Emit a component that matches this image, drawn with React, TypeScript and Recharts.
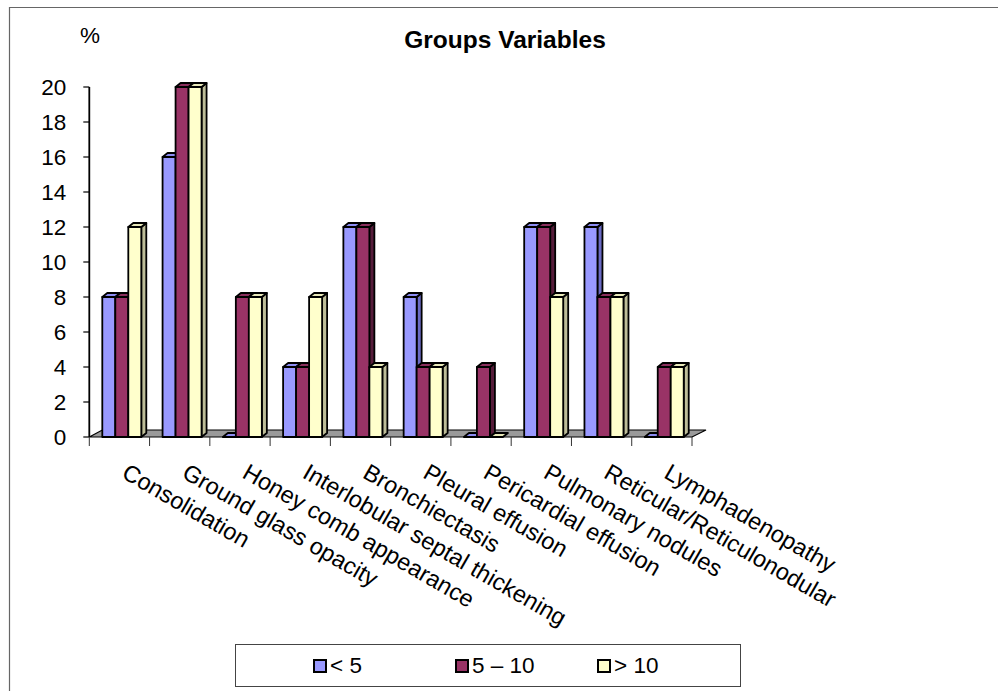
import React from 'react';
import { BarChart, Bar, XAxis, YAxis, Legend } from 'recharts';

const categories = [
  'Consolidation',
  'Ground glass opacity',
  'Honey comb appearance',
  'Interlobular septal thickening',
  'Bronchiectasis',
  'Pleural effusion',
  'Pericardial effusion',
  'Pulmonary nodules',
  'Reticular/Reticulonodular',
  'Lymphadenopathy',
];
const under5 = [8, 16, 0, 4, 12, 8, 0, 12, 12, 0];
const from5to10 = [8, 20, 8, 4, 12, 4, 4, 12, 8, 4];
const over10 = [12, 20, 8, 8, 4, 4, 0, 8, 8, 4];
const yTicks = [0, 2, 4, 6, 8, 10, 12, 14, 16, 18, 20];
const seriesNames = ['< 5', '5 \u2013 10', '> 10'];
const seriesColors = ['#9999FF', '#993366', '#FFFFCC'];

const data = categories.map((name, i) => ({
  name,
  a: under5[i],
  b: from5to10[i],
  c: over10[i],
}));

const FONT = '"Liberation Sans", Arial, sans-serif';
const W = 998;
const H = 691;
const PLOT_LEFT = 89.3;
const PLOT_RIGHT = 692;
const PLOT_TOP = 87;
const PLOT_BOTTOM = 437;
const DX = 5;
const DY = 4;

const faces: Record<string, { front: string; top: string; side: string }> = {
  '#9999FF': { front: '#9999FF', top: '#8c8cf2', side: '#6b6bc4' },
  '#993366': { front: '#993366', top: '#8a2e5c', side: '#561c3a' },
  '#FFFFCC': { front: '#FFFFCC', top: '#e8e8b8', side: '#bdbd98' },
};

const Bar3D = (props: any) => {
  const { x, y, width, height, fill } = props;
  if (x == null || y == null) return null;
  const f = faces[fill] || { front: fill, top: fill, side: fill };
  const X = x + 3;
  const h = Math.max(0, height || 0);
  const w = width;
  return (
    <g stroke="#000" strokeWidth={1.8} strokeLinejoin="round">
      {h > 0 && (
        <polygon
          fill={f.side}
          points={`${X + w},${y} ${X + w + DX},${y - DY} ${X + w + DX},${y + h - DY} ${X + w},${y + h}`}
        />
      )}
      {h > 0 && <rect x={X} y={y} width={w} height={h} fill={f.front} />}
      <polygon
        fill={f.top}
        points={`${X},${y} ${X + DX},${y - DY} ${X + w + DX},${y - DY} ${X + w},${y}`}
      />
    </g>
  );
};

const CategoryTick = (props: any) => {
  const { x, y, payload, index } = props;
  const half = payload && payload.offset ? payload.offset : (PLOT_RIGHT - PLOT_LEFT) / categories.length / 2;
  return (
    <g>
      <line x1={x - half} x2={x - half} y1={y} y2={y + 9} stroke="#333" strokeWidth={1} />
      {index === categories.length - 1 && (
        <line x1={x + half} x2={x + half} y1={y} y2={y + 9} stroke="#333" strokeWidth={1} />
      )}
      <text
        x={0}
        y={0}
        transform={`translate(${x + 1},${y + 40}) rotate(30)`}
        textAnchor="start"
        fontFamily={FONT}
        fontSize={23.5}
        fill="#000"
      >
        {payload.value}
      </text>
    </g>
  );
};

const LegendContent = () => (
  <div
    style={{
      width: 506,
      height: 43,
      boxSizing: 'border-box',
      border: '1px solid #444',
      display: 'flex',
      alignItems: 'center',
      paddingLeft: 77,
      fontFamily: FONT,
      fontSize: 22.5,
      color: '#000',
      background: '#fff',
    }}
  >
    {seriesNames.map((name, i) => (
      <div key={name} style={{ width: 142, display: 'flex', alignItems: 'center' }}>
        <span
          style={{
            display: 'inline-block',
            width: 10,
            height: 10,
            border: '2px solid #000',
            background: seriesColors[i],
            marginRight: 3,
          }}
        />
        <span>{name}</span>
      </div>
    ))}
  </div>
);

export default function App() {
  return (
    <div style={{ position: 'absolute', left: 0, top: 0, width: W, height: H, overflow: 'hidden', background: '#fff' }}>
      <svg width={W} height={H} style={{ position: 'absolute', left: 0, top: 0 }}>
        <path d={`M9.5,${H + 5} L9.5,7.5 L${W + 5},7.5`} fill="none" stroke="#666" strokeWidth={1.2} />
        <text x={505} y={48} textAnchor="middle" fontFamily={FONT} fontWeight="bold" fontSize={24.5} fill="#000">
          Groups Variables
        </text>
        <text x={80} y={43} fontFamily={FONT} fontSize={22.5} fill="#000">
          %
        </text>
        <polygon
          points={`${PLOT_LEFT},${PLOT_BOTTOM} ${PLOT_RIGHT},${PLOT_BOTTOM} ${PLOT_RIGHT + 14},${PLOT_BOTTOM - 7} ${PLOT_LEFT + 13},${PLOT_BOTTOM - 7}`}
          fill="#9a9a9a"
          stroke="#000"
          strokeWidth={1.2}
        />
      </svg>
      <div style={{ position: 'absolute', left: 0, top: 0 }}>
        <BarChart
          width={W}
          height={H}
          data={data}
          margin={{ top: PLOT_TOP, right: W - PLOT_RIGHT, bottom: H - PLOT_BOTTOM - 30, left: PLOT_LEFT - 60 }}
          barCategoryGap={10}
          barGap={0}
        >
          <XAxis
            dataKey="name"
            height={30}
            interval={0}
            axisLine={false}
            tickLine={false}
            tickSize={0}
            tickMargin={0}
            tick={<CategoryTick />}
          />
          <YAxis
            width={60}
            domain={[0, 20]}
            ticks={yTicks}
            interval={0}
            axisLine={{ stroke: '#000', strokeWidth: 1.8 }}
            tickLine={{ stroke: '#000', strokeWidth: 1.2 }}
            tickSize={6}
            tickMargin={17}
            tick={{ fill: '#000', fontSize: 22.5, fontFamily: FONT }}
          />
          <Legend
            layout="horizontal"
            verticalAlign="middle"
            align="center"
            content={<LegendContent />}
            wrapperStyle={{ left: 235, top: 644, width: 506, height: 43 }}
          />
          <Bar dataKey="a" name={seriesNames[0]} fill={seriesColors[0]} shape={<Bar3D />} isAnimationActive={false} />
          <Bar dataKey="b" name={seriesNames[1]} fill={seriesColors[1]} shape={<Bar3D />} isAnimationActive={false} />
          <Bar dataKey="c" name={seriesNames[2]} fill={seriesColors[2]} shape={<Bar3D />} isAnimationActive={false} />
        </BarChart>
      </div>
    </div>
  );
}
